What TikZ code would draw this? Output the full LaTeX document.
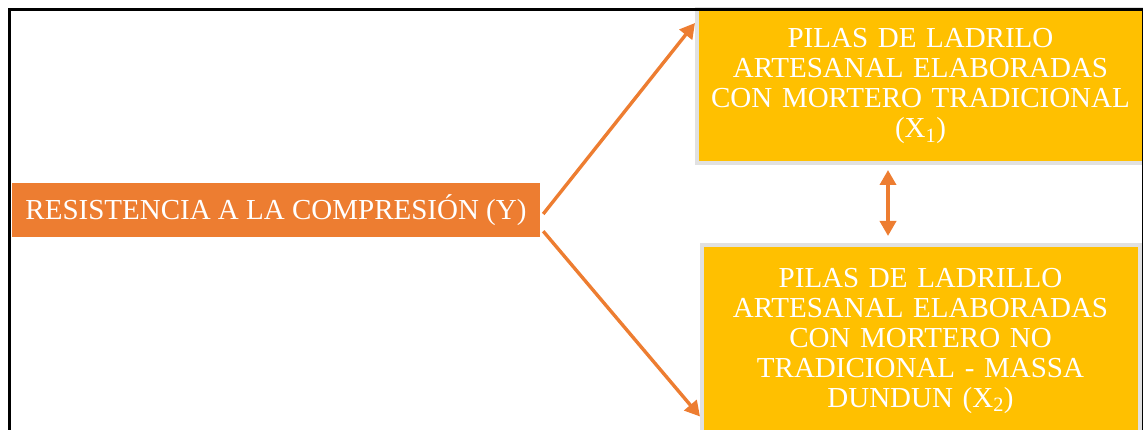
\documentclass[tikz,border=0pt]{standalone}
\usepackage{fontspec}
\setmainfont{Liberation Serif}
\usetikzlibrary{arrows.meta,calc}
\definecolor{orangeY}{HTML}{ED7D31}
\definecolor{yellowX}{HTML}{FFC000}
\definecolor{shadowgrey}{RGB}{225,225,225}
\tikzset{
  ybox/.style={fill=orangeY, text=white, inner sep=0pt, minimum width=528pt, minimum height=54pt,
    font=\fontsize{29}{30}\selectfont},
  xbox/.style={fill=yellowX, draw=shadowgrey, line width=4pt, text=white, inner sep=0pt,
    text width=436pt, align=center, font=\fontsize{29}{30}\selectfont},
  tip/.tip={Triangle[length=15pt,width=16pt]},
  conn/.style={draw=orangeY, line width=3.4pt, -tip},
  dconn/.style={draw=orangeY, line width=3.6pt, tip-tip},
  frameline/.style={draw=black, line width=3pt}
}
\begin{document}
\begin{tikzpicture}[x=1pt,y=-1pt]
\useasboundingbox (0,0) rectangle (1143,430);
\clip (0,0) rectangle (1143,430);
\node[ybox] (y) at (276,210) {RESISTENCIA A LA COMPRESIÓN (Y)};
\node[xbox, minimum width=447pt, minimum height=154pt] (x1) at (920.5,86)
  {PILAS DE LADRILO\\ARTESANAL ELABORADAS\\CON MORTERO TRADICIONAL\\(X\textsubscript{1})};
\node[xbox, minimum width=438pt, minimum height=191pt] (x2) at (920.5,340.5)
  {PILAS DE LADRILLO\\ARTESANAL ELABORADAS\\CON MORTERO NO\\TRADICIONAL - MASSA\\DUNDUN (X\textsubscript{2})};
\coordinate (up1) at ($(y.east)+(3,4)$);
\coordinate (dn1) at ($(y.south east)+(3,-6)$);
\coordinate (up2) at ($(x1.north west)+(0,16)$);
\coordinate (dn2) at ($(x2.west)+(0.5,76)$);
\draw[conn] (up1) -- (up2);
\draw[conn] (dn1) -- (dn2);
\draw[dconn] ($(x1.south)+(-32.5,5)$) -- ($(x2.north)+(-32.5,-7)$);
\draw[frameline] (1143,430) -- (1143,10) -- (9.5,10) -- (9.5,430);
\end{tikzpicture}
\end{document}
